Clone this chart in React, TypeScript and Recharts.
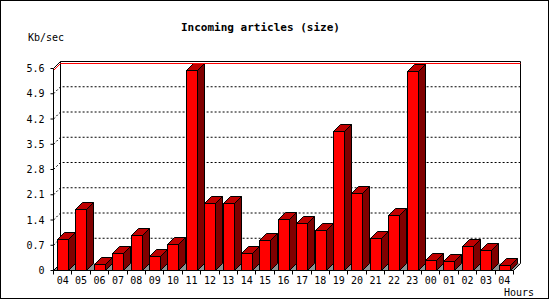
import React from 'react';
import { BarChart, Bar, XAxis, YAxis, CartesianGrid, ReferenceLine, Customized } from 'recharts';

const hours = ['04', '05', '06', '07', '08', '09', '10', '11', '12', '13', '14', '15', '16', '17', '18', '19', '20', '21', '22', '23', '00', '01', '02', '03', '04'];
const kbPerSec = [0.86, 1.7, 0.18, 0.48, 0.96, 0.4, 0.73, 5.55, 1.87, 1.87, 0.48, 0.84, 1.42, 1.31, 1.11, 3.86, 2.14, 0.89, 1.53, 5.53, 0.28, 0.26, 0.67, 0.56, 0.14];
const yTicks = [0, 0.7, 1.4, 2.1, 2.8, 3.5, 4.2, 4.9, 5.6];
const title = 'Incoming articles (size)';
const yUnit = 'Kb/sec';
const xUnit = 'Hours';

const data = hours.map((h, i) => ({ hour: h, value: kbPerSec[i] }));
const maxValue = Math.max(...kbPerSec);

const DEPTH = 7;
const FONT = "'DejaVu Sans Mono', 'Liberation Mono', monospace";

const crisp = (v: number) => Math.floor(v) + 0.5;

const Bar3D = (props: any) => {
  const { x, y, width, height } = props;
  if (x == null || y == null) return null;
  const d = DEPTH;
  const x0 = crisp(x);
  const x1 = x0 + Math.round(width);
  const y0 = crisp(y);
  const yb = crisp(y + height);
  return (
    <g>
      <polygon
        points={`${x1},${y0} ${x1 + d},${y0 - d} ${x1 + d},${yb - d} ${x1},${yb}`}
        fill="#800000"
        stroke="#000"
        strokeWidth={1}
      />
      <polygon
        points={`${x0},${y0} ${x0 + d},${y0 - d} ${x1 + d},${y0 - d} ${x1},${y0}`}
        fill="#c00000"
        stroke="#000"
        strokeWidth={1}
      />
      <rect x={x0} y={y0} width={x1 - x0} height={yb - y0} fill="#ff0000" stroke="#000" strokeWidth={1} />
    </g>
  );
};

const gridLine = (p: any) => {
  const { x1, y1, x2, index, x, y, width, height } = p;
  const d = DEPTH;
  const key = `gl-${index}`;
  const top = y;
  const bottom = y + height;
  const left = x;
  const right = x + width;
  if (Math.abs(y1 - bottom) < 0.5) {
    return (
      <g key={key}>
        <polygon
          points={`${left},${bottom} ${right},${bottom} ${right + d},${bottom - d} ${left + d},${bottom - d}`}
          fill="#909090"
          stroke="none"
        />
        <polyline
          points={`${left},${bottom} ${left + d},${bottom - d} ${left + d},${top - d}`}
          fill="none"
          stroke="#000"
        />
        <polyline
          points={`${right},${bottom} ${right + d},${bottom - d} ${right + d},${top - d}`}
          fill="none"
          stroke="#000"
        />
      </g>
    );
  }
  if (Math.abs(y1 - top) < 0.5) {
    return (
      <polyline
        key={key}
        points={`${x1},${y1} ${x1 + d},${y1 - d} ${x2 + d},${y1 - d}`}
        fill="none"
        stroke="#000"
      />
    );
  }
  return (
    <polyline
      key={key}
      points={`${x1},${y1} ${x1 + d},${y1 - d} ${x2 + d},${y1 - d}`}
      fill="none"
      stroke="#000"
      strokeDasharray="2 2"
    />
  );
};

const maxLineShape = (p: any) => {
  const { x1, y1, x2 } = p;
  const d = DEPTH;
  const yy = crisp(y1);
  return (
    <polyline
      points={`${x1},${yy} ${x1 + d},${yy - d} ${x2 + d},${yy - d}`}
      fill="none"
      stroke="#ff0000"
      strokeWidth={1}
    />
  );
};

const YTick = (p: any) => {
  const { x, y, payload } = p;
  const v = payload.value as number;
  const label = v === 0 ? '0' : v.toFixed(1);
  return (
    <text x={x} y={y + 3.5} textAnchor="end" fontFamily={FONT} fontSize={10} fill="#000">
      {label}
    </text>
  );
};

const XTick = (p: any) => {
  const { x, y, payload, width, visibleTicksCount, index } = p;
  const half = payload.offset != null && payload.offset > 0 ? payload.offset : width / visibleTicksCount / 2;
  const bl = crisp(x - half);
  const br = crisp(x + half);
  const isLast = index === visibleTicksCount - 1;
  return (
    <g>
      <line x1={bl} y1={y} x2={bl} y2={y + 4} stroke="#000" />
      {isLast && <line x1={br} y1={y} x2={br} y2={y + 4} stroke="#000" />}
      <text x={x} y={y + 13.5} textAnchor="middle" fontFamily={FONT} fontSize={10} fill="#000">
        {payload.value}
      </text>
    </g>
  );
};

const Decorations = () => (
  <g>
    <rect x={0.5} y={0.5} width={548} height={298} fill="none" stroke="#000" strokeWidth={1} />
    <text x={181} y={31} fontFamily={FONT} fontSize={11} fontWeight="bold" fill="#000">
      {title}
    </text>
    <text x={28} y={40.5} fontFamily={FONT} fontSize={10} fill="#000">
      {yUnit}
    </text>
    <text x={504} y={295.5} fontFamily={FONT} fontSize={10} fill="#000">
      {xUnit}
    </text>
  </g>
);

export default function App() {
  return (
    <div style={{ position: 'absolute', left: 0, top: 0, width: 550, height: 300, background: '#fff' }}>
      <BarChart
        width={550}
        height={300}
        data={data}
        margin={{ top: 68.5, right: 36.5, bottom: 0, left: 0 }}
      >
        <CartesianGrid horizontal={gridLine} vertical={false} />
        <ReferenceLine y={maxValue} shape={maxLineShape} stroke="#ff0000" />
        <XAxis
          dataKey="hour"
          interval={0}
          tickLine={false}
          tickSize={0}
          tickMargin={0}
          height={29.5}
          axisLine={{ stroke: '#000' }}
          tick={<XTick />}
        />
        <YAxis
          domain={[0, 5.6]}
          ticks={yTicks}
          interval={0}
          width={53.5}
          tickSize={3}
          tickMargin={6}
          axisLine={{ stroke: '#000' }}
          tickLine={{ stroke: '#000' }}
          tick={<YTick />}
        />
        <Bar dataKey="value" barSize={11} shape={<Bar3D />} isAnimationActive={false} />
        <Customized component={Decorations} />
      </BarChart>
    </div>
  );
}
